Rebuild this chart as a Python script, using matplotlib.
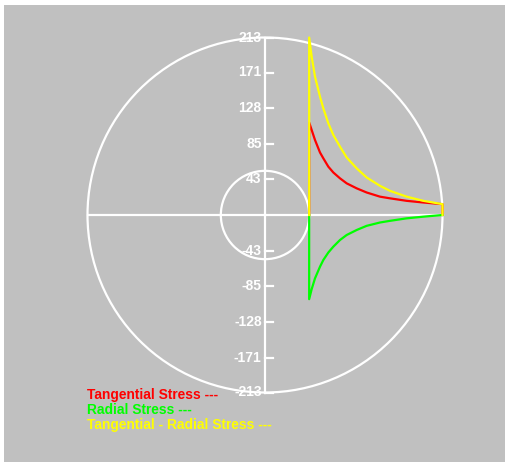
import numpy as np
import matplotlib
matplotlib.use("Agg")
import matplotlib.pyplot as plt
from matplotlib.patches import Circle

# ---- data ----
r_inner = 53
r_outer = 213
radius = [53, 56, 60, 66, 70, 76, 82, 90, 98, 110, 122, 138, 150, 170, 190, 213]
tangential = [111, 102, 90, 75, 68, 58, 51, 44, 38, 32, 27, 22, 20, 17, 15, 13]
radial = [-101, -89, -76, -62, -54, -45, -38, -30, -24, -18, -13, -9, -7, -4, -2, 0]
difference = [213, 190, 166, 142, 128, 110, 96, 82, 69, 56, 45, 35, 29, 22, 17, 13]
tick_values = [213, 171, 128, 85, 43, -43, -85, -128, -171, -213]
tick_labels = ["213", "171", "128", "85", "43", "-43", "-85", "-128", "-171", "-213"]
legend_texts = ["Tangential Stress ---", "Radial Stress ---", "Tangential - Radial Stress ---"]
legend_colors = ["#ff0000", "#00ff00", "#ffff00"]

W, H = 505, 462
fig = plt.figure(figsize=(W / 100, H / 100), dpi=100, facecolor="white")
# gray panel from px x=4..505, y=5..462 ; centre at px (265,215), 1.2 units per px
s = 1.2
cx, cy = 265, 215
ax = fig.add_axes([4 / W, 0, (W - 4) / W, (H - 5) / H])
ax.set_facecolor("#c0c0c0")
ax.set_xlim((4 - cx) * s, (W - cx) * s)
ax.set_ylim((cy - H) * s, (cy - 5) * s)
for sp in ax.spines.values():
    sp.set_visible(False)
ax.set_xticks([])
ax.set_yticks([])

lw = 1.6
ax.add_patch(Circle((0, 0), r_outer, fill=False, ec="white", lw=lw, zorder=2))
ax.add_patch(Circle((0, 0), r_inner, fill=False, ec="white", lw=lw, zorder=2))
ax.plot([-r_outer, r_outer], [0, 0], color="white", lw=lw, zorder=2)
ax.plot([0, 0], [-r_outer, r_outer], color="white", lw=lw, zorder=2)

tick_len = 9.6
for v, lab in zip(tick_values, tick_labels):
    ax.plot([0, tick_len], [v, v], color="white", lw=lw, zorder=2)
    ax.text(-4, v, lab, color="white", fontsize=10, fontweight="bold",
            family="Liberation Sans", ha="right", va="center", zorder=3)

x = [radius[0]] + radius + [radius[-1]]
ax.plot(x, [0] + tangential + [0], color="#ff0000", lw=lw, zorder=4)
ax.plot([radius[0]] + radius, [0] + radial, color="#00ff00", lw=lw, zorder=5)
ax.plot(x, [0] + difference + [0], color="#ffff00", lw=lw, zorder=6)

for i, (t, c) in enumerate(zip(legend_texts, legend_colors)):
    fig.text(87 / W, 1 - (395 + 15 * i) / H, t, color=c, fontsize=9.9, fontweight="bold",
             family="Liberation Sans", ha="left", va="center")

fig.savefig("out.png", dpi=100, facecolor=fig.get_facecolor())
